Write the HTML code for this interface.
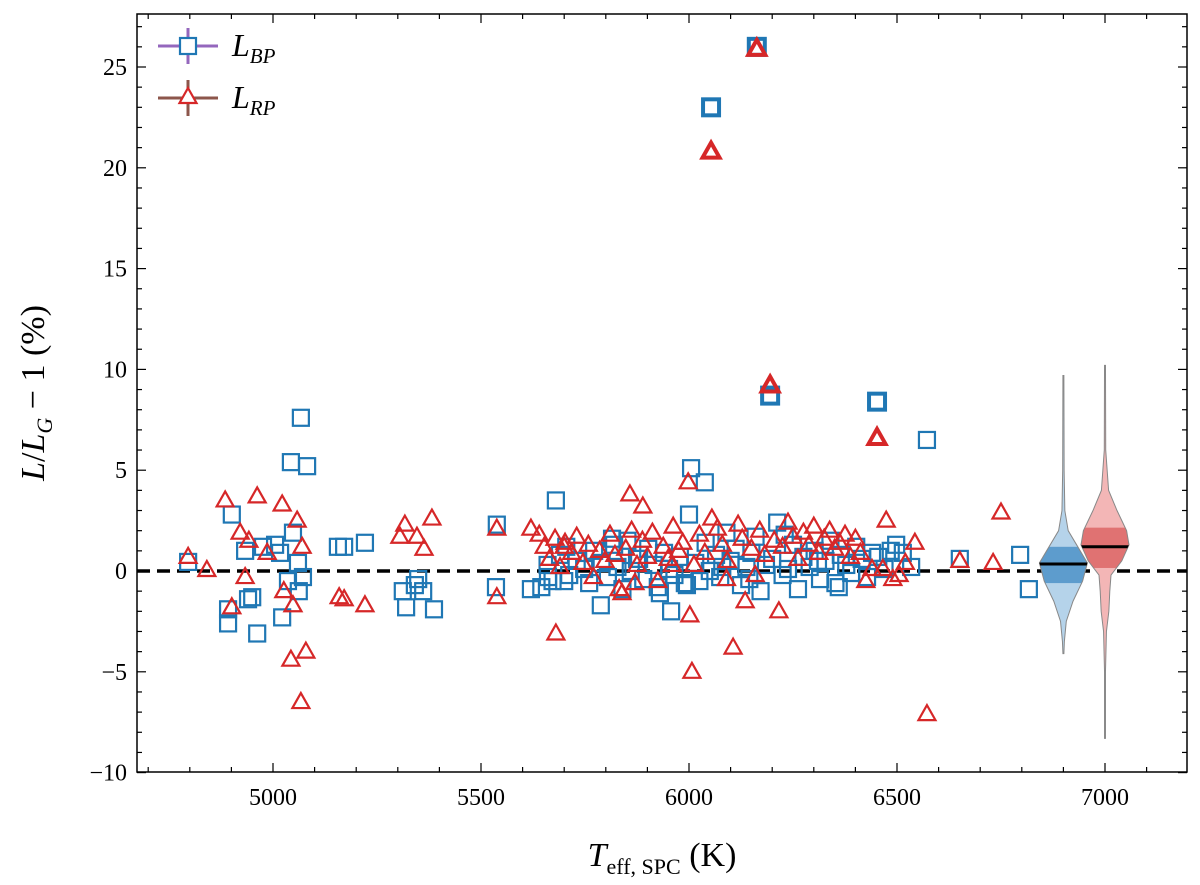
<!DOCTYPE html>
<html><head><meta charset="utf-8"><style>
html,body{margin:0;padding:0;background:#fff}
svg text{font-family:"Liberation Serif","DejaVu Serif",serif;fill:#000}
</style></head><body>
<svg id="chart" width="1200" height="880" xmlns="http://www.w3.org/2000/svg">
<rect x="137" y="14" width="1050" height="758" fill="#fff"/>
<g id="marks"></g>
<g id="axes"></g>
</svg>
<script>
// ---- data ----
const bpT = [4796,4892,4892,4901,4933,4940,4950,4962,4976,5005,5017,5022,5036,5043,5048,5060,5062,5067,5072,5082,5156,5171,5221,5312,5320,5341,5349,5361,5387,5538,5536,5620,5661,5680,6053,6163,6195,6452,6572,6005,6038,5930,5957,5788,6651,6796,6817,6534,6514,6498,
5645,5660,5672,5690,5705,5712,5730,5748,5760,5772,5790,5805,5815,5828,5840,5852,5860,5875,5890,5902,5915,5925,5940,5952,5965,5978,5990,6000,6015,6025,6040,6050,6065,6075,6090,6100,6112,6125,6138,6150,6160,6172,6185,6200,6212,6225,6238,6250,6262,6275,6290,6302,6315,6328,6340,6352,6365,6378,6390,6402,6415,6428,6440,6455,6470,6485,5700,5820,5880,5995,6080,6145,6230,6310,6360];
const bpV = [0.45,-1.9,-2.6,2.8,1.0,-1.4,-1.3,-3.1,1.2,1.3,0.9,-2.3,-0.5,5.4,1.9,0.4,-1.0,7.6,-0.3,5.2,1.2,1.2,1.4,-1.0,-1.8,-0.7,-0.4,-1.0,-1.9,2.3,-0.8,-0.9,-0.3,3.5,23.0,26.0,8.7,8.4,6.5,5.1,4.4,-1.1,-2.0,-1.7,0.6,0.8,-0.9,0.2,0.9,1.3,
-0.8,0.3,-0.5,0.8,1.2,-0.2,0.5,0.1,-0.6,1.0,0.4,-0.3,1.6,0.2,-0.9,1.5,0.0,0.6,-0.4,1.1,0.3,-0.8,0.9,0.1,-0.2,0.7,-0.6,2.8,0.4,-0.5,1.4,0.0,0.8,-0.3,1.9,0.5,1.1,-0.7,0.2,0.9,1.7,-1.0,0.3,0.6,2.4,-0.2,0.1,1.3,-0.9,0.7,0.2,1.0,-0.4,0.5,1.5,-0.6,0.8,0.3,-0.1,1.2,0.6,-0.3,0.9,0.7,0.1,1.0,-0.5,1.3,0.6,-0.7,0.2,-0.4,1.8,0.5,-0.8];
const rpT = [4796,4841,4885,4901,4921,4933,4942,4962,4986,5022,5026,5043,5048,5058,5070,5079,5067,5159,5171,5221,5305,5317,5346,5363,5382,5538,5538,5620,5680,5858,5889,5998,6002,6007,6055,6163,6053,6195,6452,6106,6135,6216,6572,6750,6651,6731,6543,6490,6466,6474,5832,5839,6159,
5640,5652,5665,5678,5690,5702,5718,5730,5745,5758,5770,5785,5798,5810,5822,5848,5862,5875,5888,5900,5912,5925,5938,5950,5962,5975,5985,6012,6025,6038,6068,6080,6092,6118,6128,6150,6170,6182,6205,6225,6238,6250,6262,6275,6288,6300,6312,6325,6338,6350,6362,6375,6388,6400,6412,6425,6440,6505,6520,5700,5870,5960,6090,6175,6245,6330,6395];
const rpV = [0.7,0.05,3.5,-1.8,1.9,-0.3,1.5,3.7,0.9,3.3,-1.0,-4.4,-1.7,2.5,1.2,-4.0,-6.5,-1.3,-1.4,-1.7,1.7,2.3,1.7,1.1,2.6,2.1,-1.3,2.1,-3.1,3.8,3.2,4.4,-2.2,-5.0,2.6,25.9,20.8,9.2,6.6,-3.8,-1.5,-2.0,-7.1,2.9,0.5,0.4,1.4,-0.4,0.1,2.5,-0.9,-1.1,-0.2,
1.8,1.2,0.6,1.6,0.2,1.4,0.9,1.7,0.4,1.3,-0.3,1.0,0.5,1.8,0.8,1.1,2.0,0.3,1.5,0.7,1.9,-0.5,1.2,0.6,2.2,1.0,1.4,0.3,1.8,0.9,2.1,1.3,0.5,2.3,1.6,1.1,2.0,0.8,1.5,1.2,2.4,1.7,0.6,1.9,1.3,2.2,0.9,1.6,2.0,1.1,1.4,1.8,0.7,1.6,0.9,-0.5,0.1,-0.2,0.4,1.2,-0.6,0.3,-0.4];
// violin profiles: [value, half-width fraction]
const vBlue = [[9.7,0.02],[5,0.03],[3,0.06],[2,0.2],[1.2,0.6],[0.4,1.0],[-0.5,0.8],[-1.5,0.4],[-2.5,0.12],[-3.5,0.04],[-4.1,0.02]];
const vRed = [[10.2,0.02],[6,0.03],[4,0.15],[3,0.5],[2,0.9],[1.3,1.0],[0.5,0.7],[-0.2,0.25],[-1,0.2],[-2,0.16],[-3,0.06],[-5,0.02],[-8.3,0.02]];
const vBlueStats = {pos:6900, med:0.35, q1:-0.6, q3:1.2};
const vRedStats = {pos:7000, med:1.2, q1:0.15, q3:2.15};
const xTicks = [5000,5500,6000,6500,7000];
const yTicks = [-10,-5,0,5,10,15,20,25];

const X0=137,X1=1187,Y0=14,Y1=772;
const xs = t => 273 + (t-5000)*0.416;
const ys = v => 571 - v*20.16;
const NS="http://www.w3.org/2000/svg";
function mk(tag, attrs, parent){const e=document.createElementNS(NS,tag);for(const k in attrs)e.setAttribute(k,attrs[k]);parent.appendChild(e);return e;}
const marks=document.getElementById('marks'), axes=document.getElementById('axes');

function violin(prof, st, fill, dark, name){
  const g=mk('g',{},marks);
  
  
  const cx=xs(st.pos), W=24;
  let d='M'+cx+','+ys(prof[0][0]);
  prof.forEach(p=>d+=' L'+(cx+p[1]*W)+','+ys(p[0]));
  for(let i=prof.length-1;i>=0;i--) d+=' L'+(cx-prof[i][1]*W)+','+ys(prof[i][0]);
  d+='Z';
  const cid='clip'+name;
  const cp=mk('clipPath',{id:cid},g); mk('path',{d:d},cp);
  mk('path',{d:d,fill:fill,stroke:'none'},g);
  mk('rect',{x:cx-W-2,y:ys(st.q3),width:2*W+4,height:ys(st.q1)-ys(st.q3),fill:dark,'clip-path':'url(#'+cid+')'},g);
  mk('path',{d:d,fill:'none',stroke:'#888',"stroke-width":1},g);
  mk('line',{x1:cx-W,x2:cx+W,y1:ys(st.med),y2:ys(st.med),stroke:'#000',"stroke-width":3,'clip-path':'url(#'+cid+')'},g);
}

const zl=mk('line',{x1:X0,x2:X1,y1:ys(0),y2:ys(0),stroke:'#000',"stroke-width":3.5,"stroke-dasharray":"13,7"},marks);



bpT.forEach((t,i)=>{
  const v=bpV[i], big=v>8;
  const r=mk('rect',{x:xs(t)-8,y:ys(v)-8,width:16,height:16,fill:'none',stroke:'#1f77b4',"stroke-width":big?4:2.2},marks);
  
  
});
rpT.forEach((t,i)=>{
  const v=rpV[i], big=v>6, x=xs(t), y=ys(v);
  const p=mk('polygon',{points:`${x},${y-9} ${x+8.5},${y+6} ${x-8.5},${y+6}`,fill:'none',stroke:'#d62728',"stroke-width":big?4:2.2,"stroke-linejoin":"miter"},marks);
  
  
});
violin(vBlue,vBlueStats,'#b5d3ea','#5d9ccd','violin-bp');
violin(vRed,vRedStats,'#f3b6b6','#e07272','violin-rp');

const fr=mk('rect',{x:X0,y:Y0,width:X1-X0,height:Y1-Y0,fill:'none',stroke:'#000',"stroke-width":1.5},axes);


for(let t=4700;t<=7200;t+=100){
  const x=xs(t); if(x<X0||x>X1)continue;
  const maj=t%500===0, L=maj?9:5;
  mk('line',{x1:x,x2:x,y1:Y1,y2:Y1-L,stroke:'#000',"stroke-width":1.2},axes);
  mk('line',{x1:x,x2:x,y1:Y0,y2:Y0+L,stroke:'#000',"stroke-width":1.2},axes);
}
for(let v=-10;v<=27;v+=1){
  const y=ys(v); const maj=v%5===0, L=maj?9:5;
  mk('line',{x1:X0,x2:X0+L,y1:y,y2:y,stroke:'#000',"stroke-width":1.2},axes);
  mk('line',{x1:X1,x2:X1-L,y1:y,y2:y,stroke:'#000',"stroke-width":1.2},axes);
}
xTicks.forEach(t=>{
  const e=mk('text',{x:xs(t),y:805,"text-anchor":"middle","font-size":24},axes); e.textContent=t;
  
  
});
yTicks.forEach(v=>{
  const e=mk('text',{x:127,y:ys(v)+8,"text-anchor":"end","font-size":24},axes); e.textContent=(v<0?'\u2212'+(-v):v);
  
  
});
</script>
<svg style="position:absolute;left:0;top:0" width="1200" height="880">
<text x="662" y="866" text-anchor="middle" font-size="34"><tspan font-style="italic">T</tspan><tspan font-size="22" dy="8">eff, SPC</tspan><tspan dy="-8"> (K)</tspan></text>
<text transform="translate(44,393) rotate(-90)" text-anchor="middle" font-size="34"><tspan font-style="italic">L</tspan>/<tspan font-style="italic">L</tspan><tspan font-size="22" font-style="italic" dy="8">G</tspan><tspan dy="-8"> − 1 (%)</tspan></text>
<g>
 <g>
  <line x1="158" x2="218" y1="46" y2="46" stroke="#9467bd" stroke-width="3"/>
  <line x1="188" x2="188" y1="28" y2="64" stroke="#9467bd" stroke-width="3"/>
  <rect x="180" y="38" width="16" height="16" fill="#fff" stroke="#1f77b4" stroke-width="2.2"/>
  <text x="232" y="56" font-size="32" font-style="italic">L<tspan font-size="21" dy="7">BP</tspan></text>
 </g>
 <g>
  <line x1="158" x2="218" y1="98" y2="98" stroke="#8c564b" stroke-width="3"/>
  <line x1="188" x2="188" y1="80" y2="116" stroke="#8c564b" stroke-width="3"/>
  <polygon points="188,88 196.5,103 179.5,103" fill="#fff" stroke="#d62728" stroke-width="2.2"/>
  <text x="232" y="108" font-size="32" font-style="italic">L<tspan font-size="21" dy="7">RP</tspan></text>
 </g>
</g>
</svg>
</body></html>
